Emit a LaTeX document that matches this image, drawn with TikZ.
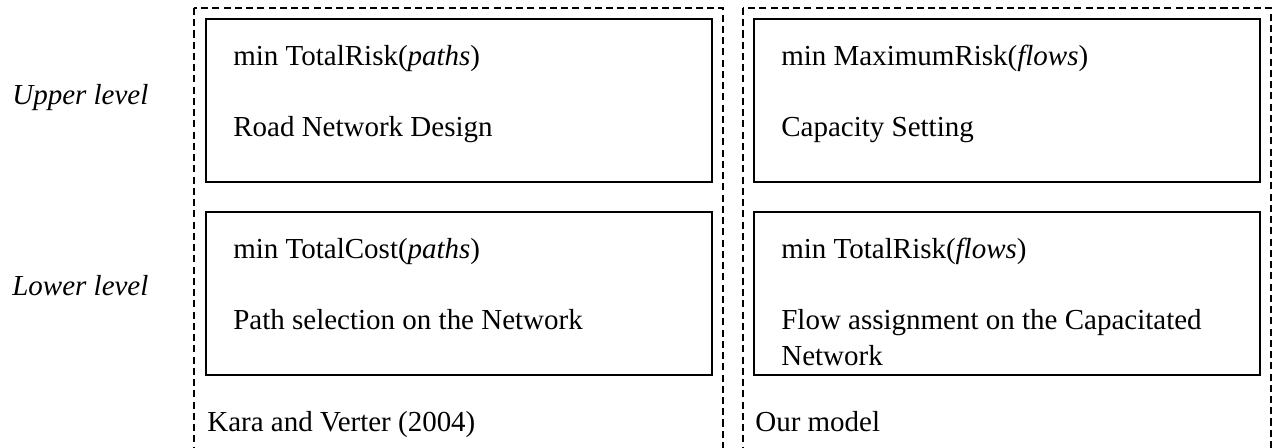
\documentclass[tikz,border=0pt]{standalone}
\usepackage{fontspec}
\setmainfont{Liberation Serif}
\begin{document}
\begin{tikzpicture}[x=0.02cm, y=-0.02cm,
  panel/.style={draw, line width=0.8pt, dash pattern=on 4pt off 2.4pt},
  levelbox/.style={draw, line width=1pt, minimum width=10.12cm, minimum height=3.26cm, anchor=north west, inner sep=0pt},
  txt/.style={anchor=base west, inner sep=0pt, font=\fontsize{16.5}{21}\selectfont, align=left}]
\useasboundingbox (0,0) rectangle (1273,448);
% two model panels
\draw[panel] (194,8) rectangle (723,470);
\draw[panel] (743,8) rectangle (1271,470);
% level labels
\node[txt] (up) at (12,105) {\itshape Upper level};
\node[txt] (lo) at (12,296) {\itshape Lower level};
% Kara and Verter
\node[levelbox] (kvU) at (205,18) {};
\node[levelbox] (kvL) at (205,211) {};
\node[txt] (kvU1) at (233,66) {min TotalRisk(\textit{paths})};
\node[txt] (kvU2) at (233,137) {Road Network Design};
\node[txt] (kvL1) at (233,259) {min TotalCost(\textit{paths})};
\node[txt] (kvL2) at (233,330) {Path selection on the Network};
\node[txt] (kv) at (207,432) {Kara and Verter (2004)};
% our model
\node[levelbox] (omU) at (753,18) {};
\node[levelbox] (omL) at (753,211) {};
\node[txt] (omU1) at (781,66) {min MaximumRisk(\textit{flows})};
\node[txt] (omU2) at (781,137) {Capacity Setting};
\node[txt] (omL1) at (781,259) {min TotalRisk(\textit{flows})};
\node[txt] (omL2) at (781,366) {Flow assignment on the Capacitated\\Network};
\node[txt] (om) at (755,432) {Our model};
\end{tikzpicture}
\end{document}
